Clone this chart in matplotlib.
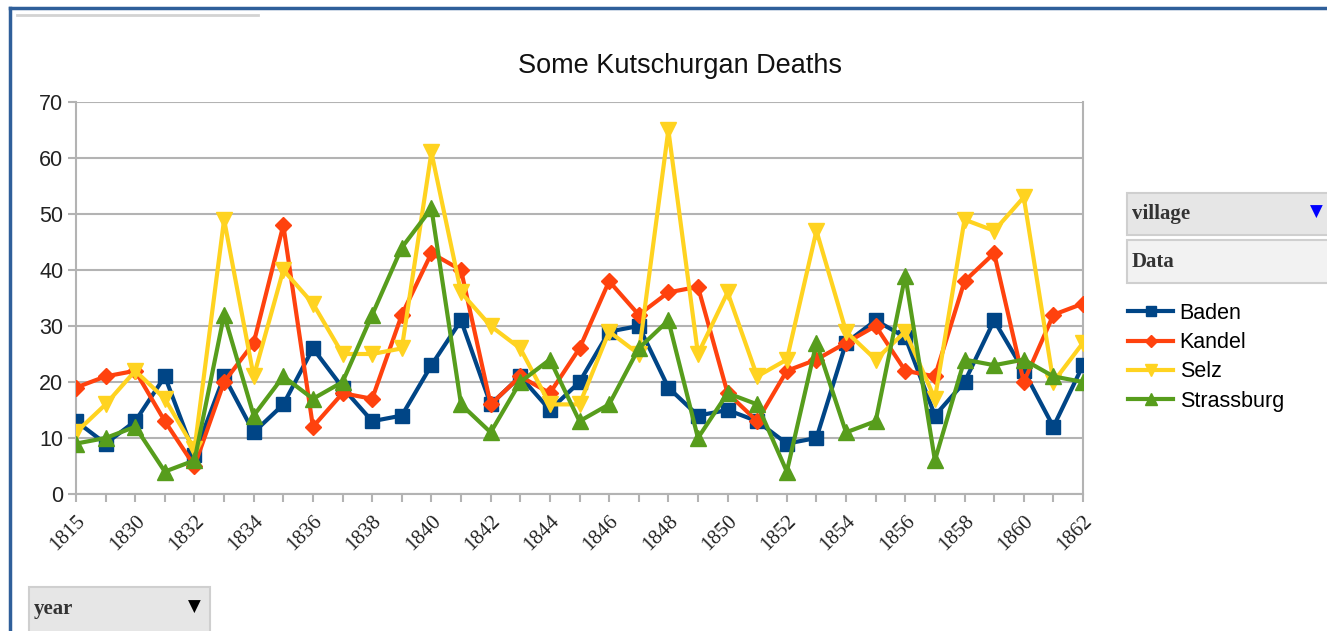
import matplotlib
matplotlib.use("Agg")
import matplotlib.pyplot as plt
from matplotlib.patches import Rectangle
from matplotlib.lines import Line2D

# data
years = ["1815", "1829", "1830", "1831", "1832", "1833", "1834", "1835", "1836",
         "1837", "1838", "1839", "1840", "1841", "1842", "1843", "1844", "1845",
         "1846", "1847", "1848", "1849", "1850", "1851", "1852", "1853", "1854",
         "1855", "1856", "1857", "1858", "1859", "1860", "1861", "1862"]
baden = [13, 9, 13, 21, 7, 21, 11, 16, 26, 19, 13, 14, 23, 31, 16, 21, 15, 20,
         29, 30, 19, 14, 15, 13, 9, 10, 27, 31, 28, 14, 20, 31, 22, 12, 23]
kandel = [19, 21, 22, 13, 5, 20, 27, 48, 12, 18, 17, 32, 43, 40, 16, 21, 18, 26,
          38, 32, 36, 37, 18, 13, 22, 24, 27, 30, 22, 21, 38, 43, 20, 32, 34]
selz = [11, 16, 22, 17, 8, 49, 21, 40, 34, 25, 25, 26, 61, 36, 30, 26, 16, 16,
        29, 25, 65, 25, 36, 21, 24, 47, 29, 24, 29, 17, 49, 47, 53, 20, 27]
strassburg = [9, 10, 12, 4, 6, 32, 14, 21, 17, 20, 32, 44, 51, 16, 11, 20, 24, 13,
              16, 26, 31, 10, 18, 16, 4, 27, 11, 13, 39, 6, 24, 23, 24, 21, 20]

villages = ["Baden", "Kandel", "Selz", "Strassburg"]
series = [baden, kandel, selz, strassburg]
colors = ["#004586", "#ff420e", "#ffd320", "#579d1c"]
markers = ["s", "D", "v", "^"]
msizes = [10.5, 8.5, 11.5, 11.5]

W, H = 1327, 631
fig = plt.figure(figsize=(W / 100, H / 100), dpi=100)


def px(x, y):
    # pixel position (from top-left) -> figure fraction
    return x / W, 1 - y / H


left, top = px(76, 102)
right, bottom = px(1083, 494)
ax = fig.add_axes([left, bottom, right - left, top - bottom])

xs = list(range(len(years)))
for name, vals, c, m, ms in zip(villages, series, colors, markers, msizes):
    ax.plot(xs, vals, color=c, marker=m, markersize=ms, linewidth=3,
            label=name, zorder=3)

grid_c = "#b3b3b3"
ax.set_xlim(0, len(years) - 1)
ax.set_ylim(0, 70)
ax.set_yticks(range(0, 71, 10))
ax.yaxis.grid(True, color=grid_c, linewidth=1.5)
ax.set_axisbelow(True)
for s in ["left", "bottom", "right"]:
    ax.spines[s].set_color(grid_c)
    ax.spines[s].set_linewidth(1.5)
ax.spines["top"].set_visible(False)

ax.set_xticks(xs)
ax.set_xticklabels([y if i % 2 == 0 else "" for i, y in enumerate(years)],
                   rotation=45, ha="right", rotation_mode="anchor",
                   family="Liberation Serif", fontsize=15, color="#222222")
ax.tick_params(axis="x", length=6, width=1.5, color=grid_c, pad=7)
ax.tick_params(axis="y", length=6, width=1.5, color=grid_c, pad=3,
               labelsize=15.5, labelcolor="#222222")
for lab in ax.get_yticklabels():
    lab.set_family("Liberation Sans")

fig.text(*px(680, 66), "Some Kutschurgan Deaths", ha="center", va="center",
         fontsize=19.5, family="Liberation Sans", color="#111111")

leg = fig.legend(loc="upper left", bbox_to_anchor=px(1128, 303), frameon=False,
                 prop={"family": "Liberation Sans", "size": 15.5},
                 handlelength=2.1, handletextpad=0.3, labelspacing=0.38,
                 borderpad=0, borderaxespad=0, markerscale=0.7)

# outer frame (left and top edges) and the grey line at the top left
fig.add_artist(Line2D([px(10, 0)[0], px(10, 0)[0]], [px(0, 8)[1], 0],
                      color="#2f5f9a", linewidth=2.5))
fig.add_artist(Line2D([px(10, 0)[0], 1], [px(0, 8)[1], px(0, 8)[1]],
                      color="#2f5f9a", linewidth=2.5))
fig.add_artist(Line2D([px(17, 0)[0], px(258, 0)[0]], [px(0, 15)[1], px(0, 15)[1]],
                      color="#d3d3d3", linewidth=2))


def box(x0, y0, x1, y1, fc):
    bx, by = px(x0, y1)
    fig.add_artist(Rectangle((bx, by), (x1 - x0) / W, (y1 - y0) / H,
                             transform=fig.transFigure, facecolor=fc,
                             edgecolor="#cfcfcf", linewidth=1.5))


# pivot table field buttons
box(1127, 193, 1340, 235, "#e6e6e6")
fig.text(*px(1132, 214), "village", ha="left", va="center", fontsize=15,
         family="Liberation Serif", weight="bold", color="#333333")
fig.text(*px(1316, 212), "▼", ha="center", va="center", fontsize=12,
         family="DejaVu Sans", color="#0000ff")
box(1127, 240, 1340, 283, "#f2f2f2")
fig.text(*px(1132, 262), "Data", ha="left", va="center", fontsize=15,
         family="Liberation Serif", weight="bold", color="#333333")
box(29, 587, 210, 645, "#e6e6e6")
fig.text(*px(34, 609), "year", ha="left", va="center", fontsize=15,
         family="Liberation Serif", weight="bold", color="#333333")
fig.text(*px(194, 607), "▼", ha="center", va="center", fontsize=12,
         family="DejaVu Sans", color="#000000")

fig.savefig("out.png", dpi=100)
